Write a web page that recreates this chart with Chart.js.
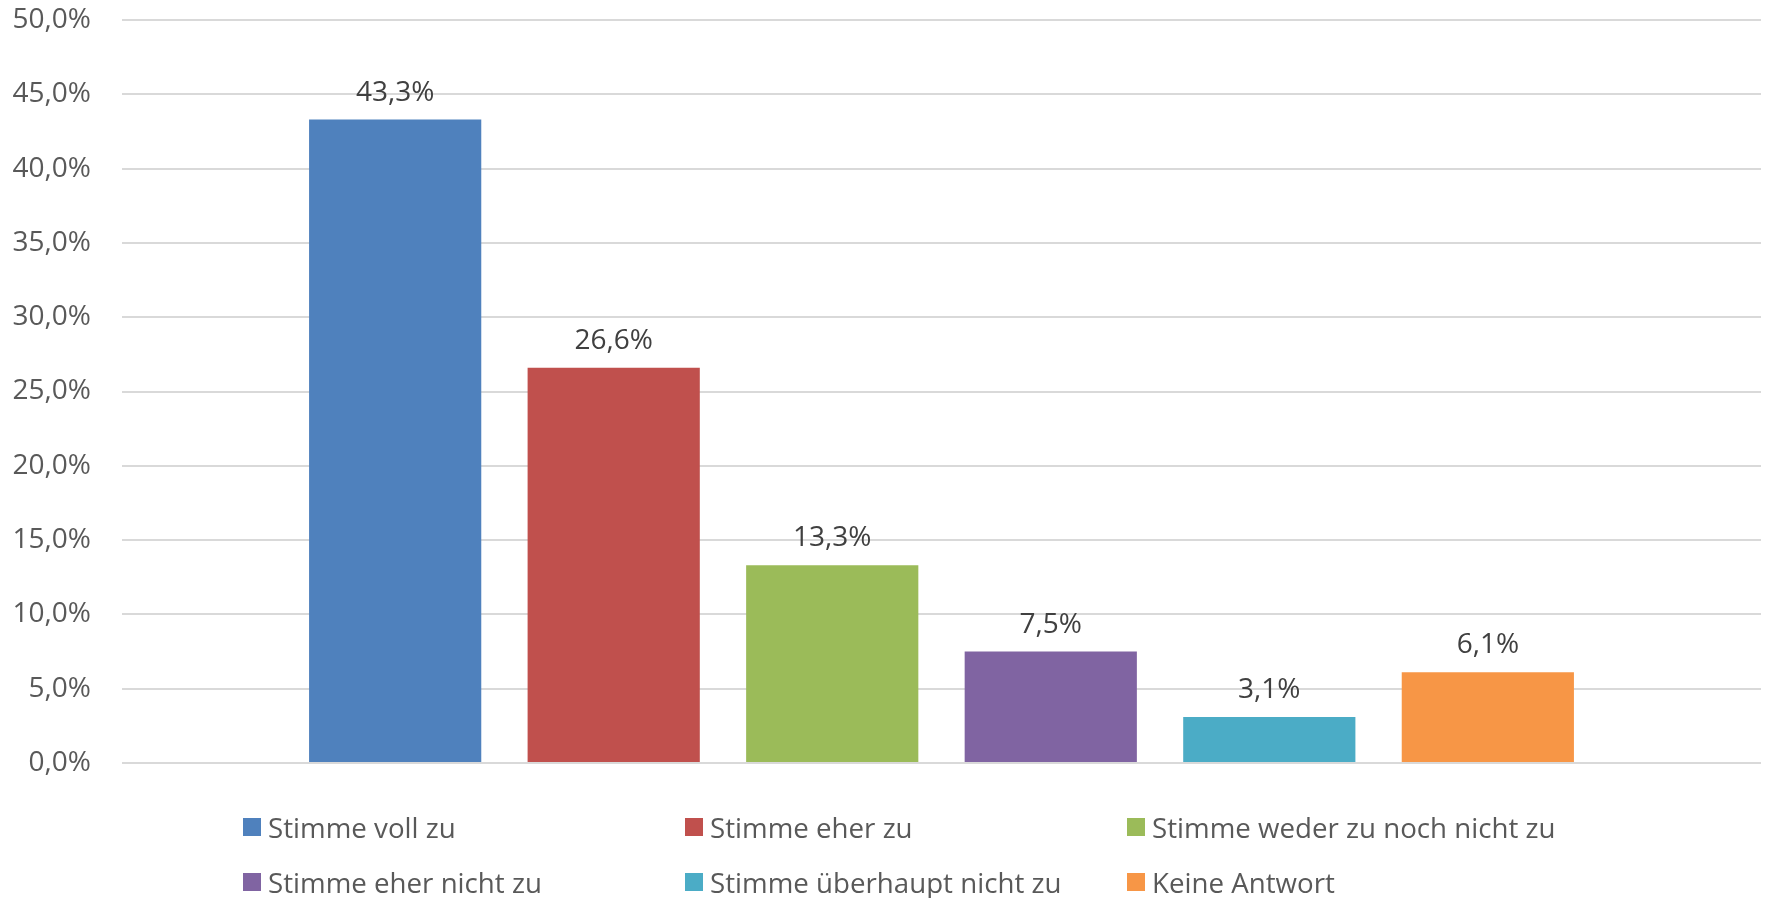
<!DOCTYPE html>
<html>
<head>
<meta charset="utf-8">
<script src="https://cdn.jsdelivr.net/npm/chart.js@4/dist/chart.umd.min.js"></script>
<style>
  body { margin: 0; background: #fff; }
  #wrap { position: relative; width: 1767px; height: 898px; }
  #legend {
    position: absolute; left: 243px; top: 809px;
    display: grid; grid-template-columns: 442px 442px 442px;
    row-gap: 19px;
    font-family: "Open Sans", sans-serif; font-size: 27.7px; color: #595959;
  }
  #legend div { display: flex; align-items: center; height: 36px; white-space: nowrap; }
  #legend span.box { display: inline-block; width: 18px; height: 18px; margin-right: 7px; }
</style>
</head>
<body>
<div id="wrap">
  <canvas id="chart"></canvas>
  <div id="legend"></div>
</div>
<script>
var seriesNames = [
  "Stimme voll zu",
  "Stimme eher zu",
  "Stimme weder zu noch nicht zu",
  "Stimme eher nicht zu",
  "Stimme überhaupt nicht zu",
  "Keine Antwort"
];
var seriesValues = [43.3, 26.6, 13.3, 7.5, 3.1, 6.1];
var seriesColors = ["#4F81BD", "#C0504D", "#9BBB59", "#8064A2", "#4BACC6", "#F79646"];

function pct(v) {
  return v.toFixed(1).replace(".", ",") + "%";
}

// value labels above each bar
var barLabels = {
  id: "barLabels",
  afterDatasetsDraw: function (chart) {
    var ctx = chart.ctx;
    ctx.save();
    ctx.font = '28px "Open Sans"';
    ctx.fillStyle = "#404040";
    ctx.textAlign = "center";
    ctx.textBaseline = "alphabetic";
    chart.data.datasets.forEach(function (ds, i) {
      var bar = chart.getDatasetMeta(i).data[0];
      ctx.fillText(pct(ds.data[0]), bar.x, bar.y - 19);
    });
    ctx.restore();
  }
};

var ctx = document.getElementById("chart");

var chart = new Chart(ctx, {
  type: "bar",
  data: {
    labels: [""],
    datasets: seriesNames.map(function (name, i) {
      return {
        label: name,
        data: [seriesValues[i]],
        backgroundColor: seriesColors[i],
        categoryPercentage: 0.8,
        barPercentage: 0.788,
      };
    }),
  },
  options: {
    responsive: true,
    maintainAspectRatio: false,
    animation: false,
    layout: {
      padding: { top: 20, right: 6, bottom: 135, left: 0 },
    },
    plugins: {
      legend: { display: false },
      tooltip: { enabled: false },
    },
    scales: {
      x: {
        display: false,
      },
      y: {
        min: 0,
        max: 50,
        afterFit: function (scale) {
          scale.width = 122;
          scale.paddingTop = 0;
          scale.paddingBottom = 0;
        },
        border: { display: false },
        grid: {
          color: "#D9D9D9",
          lineWidth: 2,
          drawTicks: false,
        },
        ticks: {
          stepSize: 5,
          padding: 31,
          color: "#595959",
          font: { family: "Open Sans", size: 28 },
          callback: function (v) {
            return pct(v);
          },
        },
      },
    },
  },
  plugins: [barLabels],
});

var legend = document.getElementById("legend");
seriesNames.forEach(function (name, i) {
  var item = document.createElement("div");
  var box = document.createElement("span");
  box.className = "box";
  box.style.background = seriesColors[i];
  item.appendChild(box);
  item.appendChild(document.createTextNode(name));
  legend.appendChild(item);
});
</script>
</body>
</html>
